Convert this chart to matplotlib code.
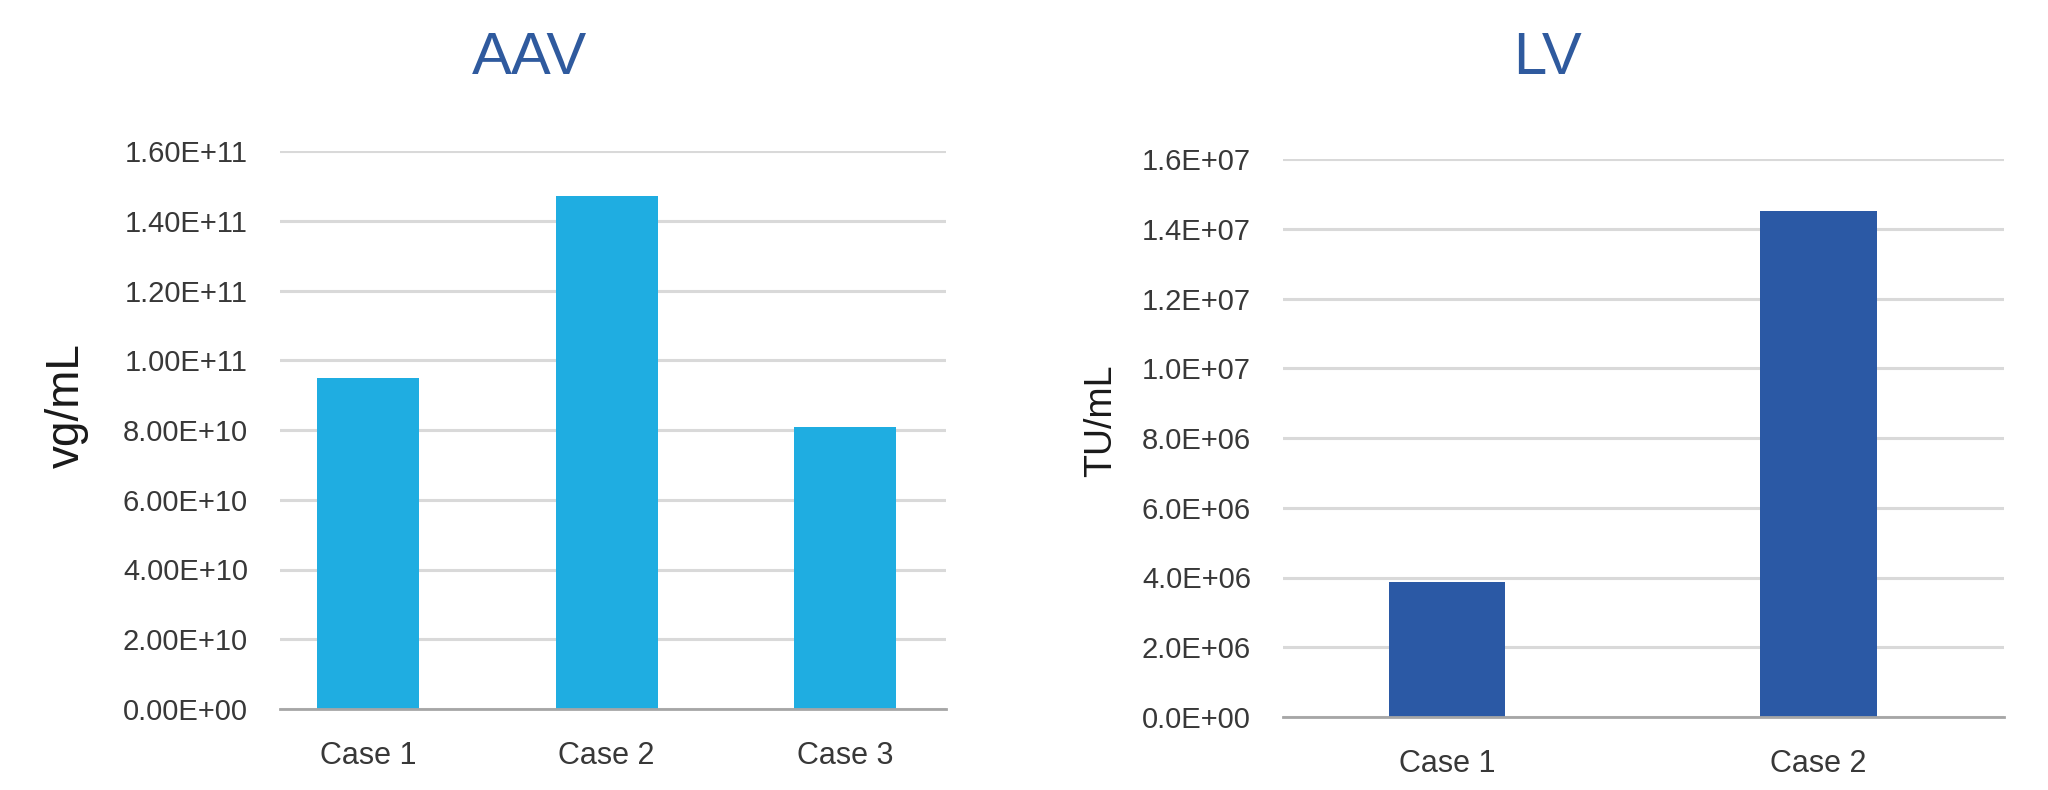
import matplotlib
matplotlib.use("Agg")
import matplotlib.pyplot as plt
from matplotlib.ticker import FixedLocator

plt.rcParams["font.family"] = ["Liberation Sans", "DejaVu Sans"]

# AAV titres
aav_cases = ["Case 1", "Case 2", "Case 3"]
aav_values = [9.5e10, 1.47e11, 8.1e10]
aav_ticks = [0, 2e10, 4e10, 6e10, 8e10, 1e11, 1.2e11, 1.4e11, 1.6e11]

# LV titres
lv_cases = ["Case 1", "Case 2"]
lv_values = [3.87e6, 1.45e7]
lv_ticks = [0, 2e6, 4e6, 6e6, 8e6, 1e7, 1.2e7, 1.4e7, 1.6e7]

TITLE_BLUE = "#2F5A9E"
TEXT_GREY = "#383838"
GRID_GREY = "#D9D9D9"
BASE_GREY = "#A6A6A6"

fig = plt.figure(figsize=(20.48, 7.9), dpi=100)


def style_axes(ax, ticks, fmt):
    ax.set_ylim(0, ticks[-1])
    ax.yaxis.set_major_locator(FixedLocator(ticks))
    ax.set_yticklabels([fmt(t) for t in ticks])
    ax.grid(axis="y", color=GRID_GREY, linewidth=2.2)
    ax.set_axisbelow(True)
    for side in ["top", "right", "left"]:
        ax.spines[side].set_visible(False)
    ax.spines["bottom"].set_color(BASE_GREY)
    ax.spines["bottom"].set_linewidth(2.0)
    ax.tick_params(axis="both", length=0, colors=TEXT_GREY, labelsize=21)
    ax.tick_params(axis="y", pad=23)
    ax.tick_params(axis="x", pad=23, labelsize=22)


# left panel: AAV
ax1 = fig.add_axes([280 / 2048, 81 / 790, 666 / 2048, 558 / 790])
ax1.bar(range(len(aav_cases)), aav_values, width=0.428, color="#1FADE1")
ax1.set_xlim(-0.369, 2.423)
ax1.set_xticks(range(len(aav_cases)))
ax1.set_xticklabels(aav_cases)
style_axes(ax1, aav_ticks, lambda t: f"{t:.2E}")

# right panel: LV
ax2 = fig.add_axes([1283 / 2048, 73 / 790, 721 / 2048, 558 / 790])
ax2.bar(range(len(lv_cases)), lv_values, width=0.315, color="#2B59A5")
ax2.set_xlim(-0.442, 1.501)
ax2.set_xticks(range(len(lv_cases)))
ax2.set_xticklabels(lv_cases)
style_axes(ax2, lv_ticks, lambda t: f"{t:.1E}")

title_font = ["Liberation Sans Narrow", "Liberation Sans", "DejaVu Sans"]
fig.text(529 / 2048, 1 - 59 / 790, "AAV", ha="center", va="center",
         fontsize=43, color=TITLE_BLUE, family=title_font)
fig.text(1548 / 2048, 1 - 59 / 790, "LV", ha="center", va="center",
         fontsize=43, color=TITLE_BLUE, family=title_font)

fig.text(67 / 2048, 0.487, "vg/mL", rotation=90, ha="center", va="center",
         fontsize=33, color="#1A1A1A")
fig.text(1101 / 2048, 0.467, "TU/mL", rotation=90, ha="center", va="center",
         fontsize=27, color="#1A1A1A")

fig.savefig("out.png", dpi=100)
